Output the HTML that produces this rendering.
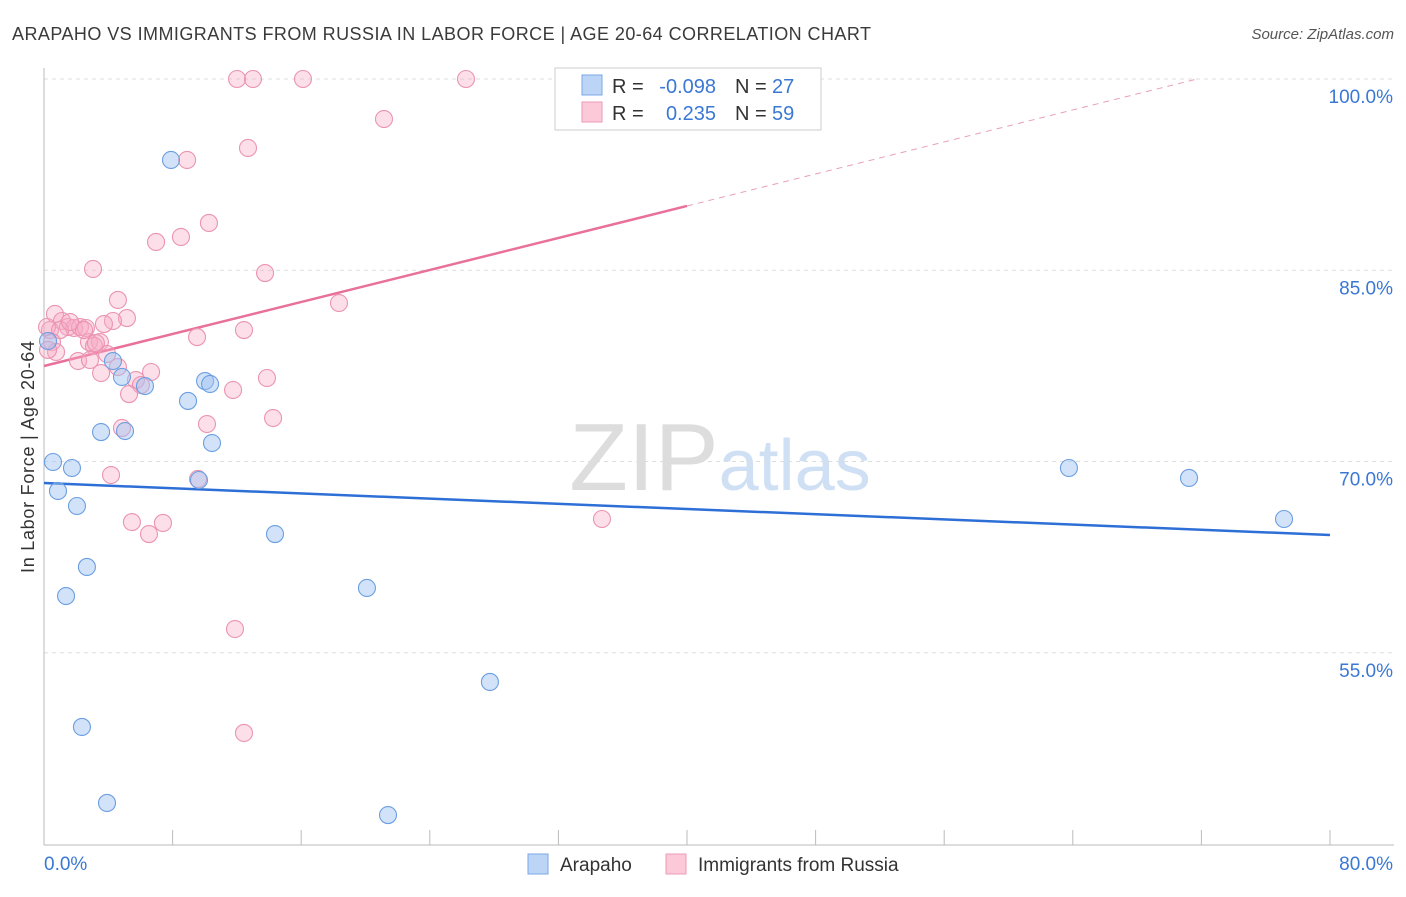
<!DOCTYPE html>
<html><head><meta charset="utf-8"><style>
body{margin:0;background:#fff;font-family:"Liberation Sans",sans-serif}
svg text{font-family:"Liberation Sans",sans-serif}
</style></head><body>
<svg id="chart" width="1406" height="892" xmlns="http://www.w3.org/2000/svg">
<text x="12" y="40" font-size="18" fill="#3a3a3a" textLength="859" lengthAdjust="spacing">ARAPAHO VS IMMIGRANTS FROM RUSSIA IN LABOR FORCE | AGE 20-64 CORRELATION CHART</text>
<text x="1394" y="39" font-size="15" fill="#555" text-anchor="end" font-style="italic">Source: ZipAtlas.com</text>
<text x="720" y="490" font-size="96" fill="#ddd" text-anchor="middle" font-family="Liberation Serif">ZIP<tspan fill="#cfe0f5" font-family="Liberation Sans" font-size="72">atlas</tspan></text>
<text transform="translate(34,457) rotate(-90)" font-size="18" fill="#333" text-anchor="middle" textLength="232">In Labor Force | Age 20-64</text>
<g id="grid"></g><g id="axes"></g><g id="lines"></g><g id="pts"></g>
<g>
<rect x="555" y="68" width="266" height="62" fill="#fff" stroke="#ccc"/>
<rect x="582" y="75" width="20" height="20" fill="#bcd4f5" stroke="#7aa7e6"/>
<rect x="582" y="102" width="20" height="20" fill="#fbc9d7" stroke="#ee9ab5"/>
<text x="612" y="93" font-size="20" fill="#333">R =</text>
<text x="716" y="93" font-size="20" fill="#3a78d4" text-anchor="end">-0.098</text>
<text x="735" y="93" font-size="20" fill="#333">N =</text>
<text x="772" y="93" font-size="20" fill="#3a78d4">27</text>
<text x="612" y="120" font-size="20" fill="#333">R =</text>
<text x="716" y="120" font-size="20" fill="#3a78d4" text-anchor="end">0.235</text>
<text x="735" y="120" font-size="20" fill="#333">N =</text>
<text x="772" y="120" font-size="20" fill="#3a78d4">59</text>
</g>
<g>
<rect x="528" y="854" width="20" height="20" fill="#bcd4f5" stroke="#7aa7e6"/>
<text x="560" y="871" font-size="19" fill="#333">Arapaho</text>
<rect x="666" y="854" width="20" height="20" fill="#fbc9d7" stroke="#ee9ab5"/>
<text x="698" y="871" font-size="19" fill="#333">Immigrants from Russia</text>
</g>
</svg>
<script>
const yTicks=[100,85,70,55];
const xTickLabels=["0.0%","80.0%"];
const blueX=[0.25,0.56,0.87,1.74,2.05,2.67,1.37,2.36,3.92,3.55,5.04,4.29,4.85,6.28,7.90,8.96,10.02,10.33,10.45,9.64,14.37,20.09,27.74,21.40,63.76,71.23,77.14];
const blueY=[79.45,69.96,67.69,69.49,66.51,61.73,59.45,49.18,43.22,72.31,72.39,77.88,76.63,75.92,93.65,74.75,76.31,76.08,71.45,68.55,64.31,60.08,52.71,42.27,69.49,68.71,65.49];
const pinkX=[12.01,13.00,16.11,26.25,21.15,8.90,12.69,10.26,8.52,6.97,3.05,13.75,18.35,4.60,0.68,5.16,4.29,3.73,1.12,1.49,1.87,2.24,2.61,0.37,0.19,1.00,12.44,9.52,2.80,3.48,0.50,0.75,3.11,3.92,2.12,2.86,4.60,6.66,3.55,5.72,6.03,13.87,11.76,5.29,10.14,14.25,4.85,4.17,9.58,5.47,7.40,6.53,34.71,11.88,12.44,0.25,2.49,1.62,3.23];
const pinkY=[100,100,100,100,96.86,93.65,94.59,88.71,87.61,87.22,85.10,84.78,82.43,82.67,81.57,81.25,81.02,80.78,81.02,80.55,80.47,80.55,80.47,80.31,80.55,80.31,80.31,79.76,79.37,79.37,79.37,78.59,79.06,78.43,77.88,77.96,77.41,77.02,76.94,76.39,76.00,76.55,75.61,75.29,72.94,73.41,72.63,68.94,68.63,65.25,65.18,64.31,65.49,56.86,48.71,78.75,80.31,80.94,79.29];
const blueFit=[68.31,-0.0509];
const pinkFit=[77.49,0.3138];
const NS="http://www.w3.org/2000/svg";
const X=v=>44+v*(1286/80), Y=v=>79+(100-v)*12.75;
function mk(t,a,p){const e=document.createElementNS(NS,t);for(const k in a)e.setAttribute(k,a[k]);document.getElementById(p).appendChild(e);return e;}
yTicks.forEach(t=>{
 const g=mk('line',{x1:44,x2:1394,y1:Y(t),y2:Y(t),stroke:'#ddd','stroke-dasharray':'4,4'},'grid');
 
 
 const l=mk('text',{x:1393,y:Y(t)+24,'font-size':19,fill:'#3a78d4','text-anchor':'end'},'axes');
 l.textContent=t.toFixed(1)+'%';
 
 
});
mk('line',{x1:44,x2:44,y1:68,y2:845,stroke:'#bbb'},'axes');
mk('line',{x1:44,x2:1394,y1:845,y2:845,stroke:'#bbb'},'axes');
for(let i=0;i<=10;i++){mk('line',{x1:X(i*8),x2:X(i*8),y1:830,y2:845,stroke:'#bbb'},'axes');}
[[0,44,'start'],[1,1393,'end']].forEach(([i,x,a])=>{const t=mk('text',{x:x,y:870,'font-size':19,fill:'#3a78d4','text-anchor':a},'axes');t.textContent=xTickLabels[i];
 
 });
const bl=mk('line',{x1:X(0),y1:Y(blueFit[0]),x2:X(80),y2:Y(blueFit[0]+80*blueFit[1]),stroke:'#2d6fd6','stroke-width':2.5},'lines');


const pl=mk('line',{x1:X(0),y1:Y(pinkFit[0]),x2:X(40),y2:Y(pinkFit[0]+40*pinkFit[1]),stroke:'#e8709a','stroke-width':2.5},'lines');


const xe=(100-pinkFit[0])/pinkFit[1];
const pd=mk('line',{x1:X(40),y1:Y(pinkFit[0]+40*pinkFit[1]),x2:X(xe),y2:Y(100),stroke:'#e8a0b8','stroke-width':1,'stroke-dasharray':'6,5'},'lines');


pinkX.forEach((x,i)=>{const c=mk('circle',{cx:X(x),cy:Y(pinkY[i]),r:8.5,fill:'rgba(246,170,196,0.38)',stroke:'#eb94b2','stroke-width':1.1},'pts');
 
 });
blueX.forEach((x,i)=>{const c=mk('circle',{cx:X(x),cy:Y(blueY[i]),r:8.5,fill:'rgba(160,195,240,0.48)',stroke:'#6b9fe2','stroke-width':1.1},'pts');
 
 });
</script>
</body></html>
